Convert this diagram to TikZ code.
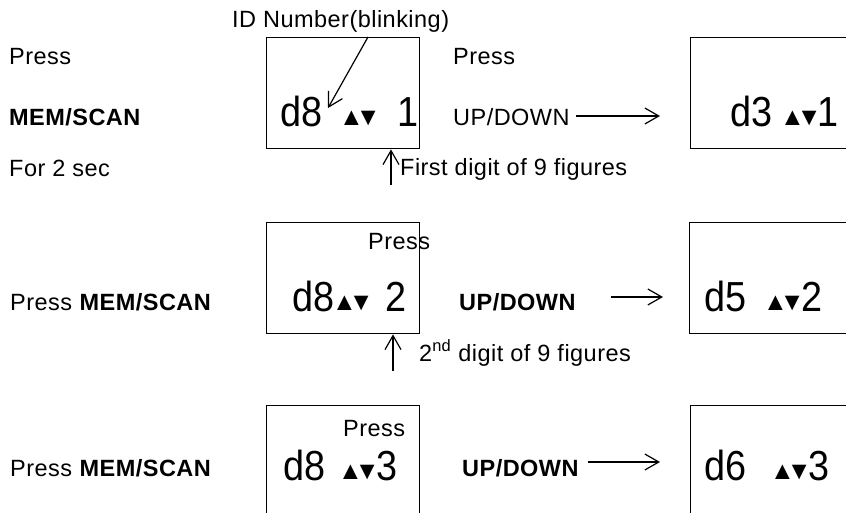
\documentclass[tikz,border=0pt]{standalone}
\usepackage{fontspec}
\setmainfont{Liberation Sans}[LetterSpace=2]
\newfontfamily\lcdfont{Liberation Sans}[FakeStretch=0.9]
\newfontfamily\trifont{Liberation Sans}
\newcommand{\updn}{\kern-6pt▲\kern-8pt▼\kern-6.5pt}
\usetikzlibrary{arrows.meta}
\begin{document}
\begin{tikzpicture}[x=1pt,y=-1pt,
  txt/.style={inner sep=0pt, anchor=base west, font=\fontsize{23.5}{23.5}\selectfont},
  btxt/.style={inner sep=0pt, anchor=base west, font=\fontsize{23.5}{23.5}\selectfont\bfseries},
  lcd/.style={inner sep=0pt, anchor=base west, font=\lcdfont\fontsize{42}{42}\selectfont},
  tri/.style={inner sep=0pt, anchor=base west, font=\trifont\fontsize{25}{25}\selectfont},
  box/.style={draw, line width=1.4pt, inner sep=0pt, anchor=north west},
  arr/.style={line width=1.2pt, -{Straight Barb[length=14pt,width=16pt]}}]
\useasboundingbox (0,0) rectangle (846,513);
\clip (0,0) rectangle (846,513);
% ---------- row 1 ----------
\node[txt] (p1) at (9,65) {Press};
\node[btxt] (m1) at (9,126) {MEM/SCAN};
\node[txt] (f1) at (9,177) {For 2 sec};
\node[txt] (id) at (232,28) {ID Number(blinking)};
\node[box, minimum width=153pt, minimum height=111pt] (b1) at (266,37) {};
\node[lcd] (d1) at (280,127) {d8};
\node[tri] (t1) at (345,126) {\updn};
\node[lcd] (n1) at (397,127) {1};
\node[txt] (p1b) at (453,65) {Press};
\node[txt] (u1) at (453,126) {UP/DOWN};
\node[box, minimum width=200pt, minimum height=111pt] (b2) at (690,37) {};
\node[lcd] (d2) at (730,127) {d3};
\node[tri] (t2) at (786,126) {\updn};
\node[lcd] (n2) at (817,127) {1};
\node[txt] (fd) at (400,176) {First digit of 9 figures};
\coordinate (a1s) at (576,116);
\coordinate (a1e) at (660,116);
\draw[arr] (a1s) -- (a1e);
\coordinate (ids) at (368,37);
\coordinate (ide) at (328,108);
\draw[arr] (ids) -- (ide);
\coordinate (u1s) at (391,185);
\draw[arr] (u1s) -- (u1s |- b1.south);
% ---------- row 2 ----------
\node[txt] (p2) at (10,310) {Press \textbf{MEM/SCAN}};
\node[box, minimum width=153pt, minimum height=111pt] (b3) at (266,222) {};
\node[txt] (p2b) at (368,250) {Press};
\node[lcd] (d3) at (292,311) {d8};
\node[tri] (t3) at (338,310) {\updn};
\node[lcd] (n3) at (385,311) {2};
\node[btxt] (u2) at (459,310) {UP/DOWN};
\node[box, minimum width=200pt, minimum height=111pt] (b4) at (689,222) {};
\node[lcd] (d4) at (704,311) {d5};
\node[tri] (t4) at (769,310) {\updn};
\node[lcd] (n4) at (801,311) {2};
\node[txt] (sd) at (419,361) {2\textsuperscript{nd} digit of 9 figures};
\coordinate (a2s) at (611,297);
\coordinate (a2e) at (663,297);
\draw[arr] (a2s) -- (a2e);
\coordinate (u2s) at (393,371);
\draw[arr] (u2s) -- (u2s |- b3.south);
% ---------- row 3 ----------
\node[txt] (p3) at (10,476) {Press \textbf{MEM/SCAN}};
\node[box, minimum width=153pt, minimum height=130pt] (b5) at (266,405) {};
\node[txt] (p3b) at (343,436) {Press};
\node[lcd] (d5) at (283,480) {d8};
\node[tri] (t5) at (344,479) {\updn};
\node[lcd] (n5) at (376,480) {3};
\node[btxt] (u3) at (462,476) {UP/DOWN};
\node[box, minimum width=200pt, minimum height=130pt] (b6) at (690,405) {};
\node[lcd] (d6) at (704,480) {d6};
\node[tri] (t6) at (776,479) {\updn};
\node[lcd] (n6) at (808,480) {3};
\coordinate (a3s) at (588,462);
\coordinate (a3e) at (660,462);
\draw[arr] (a3s) -- (a3e);
\end{tikzpicture}
\end{document}
